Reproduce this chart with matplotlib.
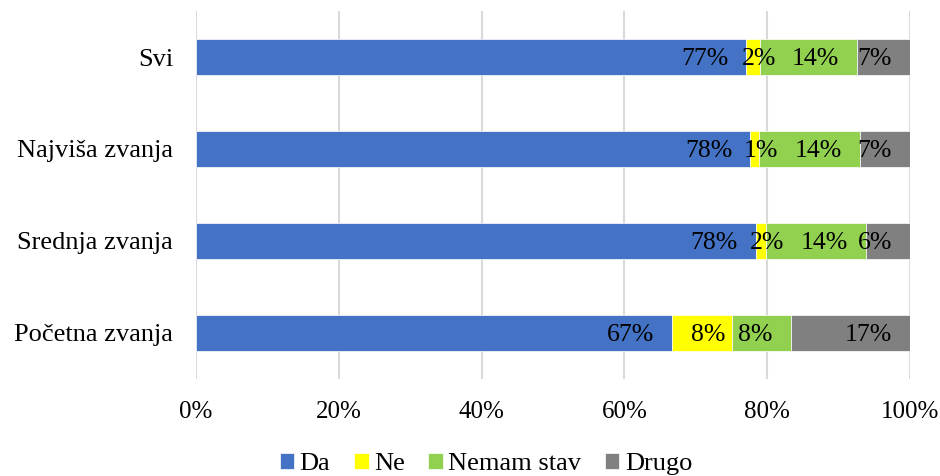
import matplotlib.pyplot as plt
import numpy as np

# share of answers per group (in %)
categories = ["Svi", "Najviša zvanja", "Srednja zvanja", "Početna zvanja"]
series = ["Da", "Ne", "Nemam stav", "Drugo"]
da = [77.1, 77.6, 78.4, 66.7]
ne = [1.9, 1.2, 1.5, 8.3]
nemam = [13.6, 14.2, 13.9, 8.3]
drugo = [7.4, 7.0, 6.2, 16.7]
xticks = [0, 20, 40, 60, 80, 100]

colors = ["#4472C4", "#FFFF00", "#92D050", "#808080"]
label_pos = ["end", "center", "end", "end"]  # Excel data label placement per series

plt.rcParams['font.family'] = ['Liberation Serif', 'DejaVu Serif']

fig = plt.figure(figsize=(9.4, 4.76), dpi=100)
ax = fig.add_axes([196 / 940, 1 - 379 / 476, (910 - 196) / 940, 368 / 476])

y = np.arange(len(categories))
left = np.zeros(len(categories))
for name, vals, col, pos in zip(series, [da, ne, nemam, drugo], colors, label_pos):
    vals = np.array(vals)
    ax.barh(y, vals, left=left, height=0.4, color=col, label=name,
            edgecolor='white', linewidth=0.5, zorder=2)
    for yi, l, v in zip(y, left, vals):
        txt = "%d%%" % round(v)
        if pos == "center":
            ax.annotate(txt, (l + v / 2, yi), xytext=(4.5, -1.5), textcoords='offset points',
                        ha='center', va='center', fontsize=18.5, zorder=3)
        else:  # inside end
            ax.annotate(txt, (l + v, yi), xytext=(-13, -1.5), textcoords='offset points',
                        ha='right', va='center', fontsize=18.5, zorder=3)
    left += vals

ax.set_xlim(0, 100)
ax.set_ylim(len(categories) - 0.5, -0.5)
ax.set_xticks(xticks)
ax.set_xticklabels(["%d%%" % t for t in xticks], fontsize=18)
ax.set_yticks(y)
ax.set_yticklabels(categories, fontsize=19)
ax.tick_params(axis='x', length=0, pad=16)
ax.tick_params(axis='y', length=0, pad=16.5)
ax.xaxis.grid(True, color='#d9d9d9', linewidth=1.5)
ax.set_axisbelow(True)
for s in ax.spines.values():
    s.set_visible(False)

fig.legend(loc='center', bbox_to_anchor=(486 / 940, 1 - 464 / 476), ncol=4,
           frameon=False, fontsize=19, handlelength=0.55, handleheight=0.55,
           handletextpad=0.2, columnspacing=0.9, borderpad=0)

fig.savefig("out.png", dpi=100)
